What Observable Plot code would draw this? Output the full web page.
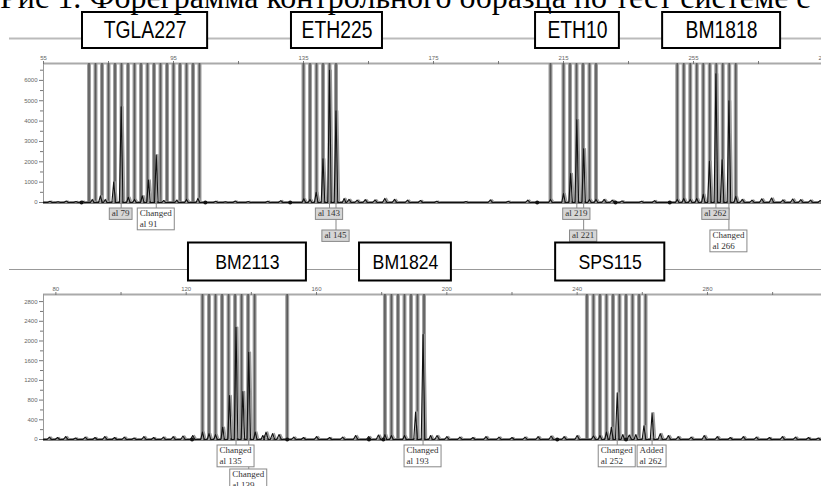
<!DOCTYPE html>
<html><head><meta charset="utf-8">
<script src="https://cdn.jsdelivr.net/npm/d3@7"></script>
<script src="https://cdn.jsdelivr.net/npm/@observablehq/plot@0.6"></script>
<style>
body{margin:0;background:#fff;}
#wrap{position:relative;width:821px;height:486px;overflow:hidden;background:#fff;}
#title{position:absolute;left:0;top:-19px;font-family:"Liberation Serif","Times New Roman",serif;font-size:32px;line-height:32px;white-space:nowrap;color:#000;z-index:3;}
#top{position:absolute;left:0;top:0;}
#bot{position:absolute;left:0;top:236px;}
</style></head><body>
<div id="wrap"><div id="title">Рис 1. Фореграмма контрольного образца по тест системе с</div><div id="top"></div><div id="bot"></div></div>
<script>
const W = 821;

// ---------------- top panel data ----------------
const topXTicks = [55, 95, 135, 175, 215, 255, 295];
const topXMinor = [75, 115, 155, 195, 235, 275];
const topYTicks = [0, 1000, 2000, 3000, 4000, 5000, 6000];
const topYMinor = [500, 1500, 2500, 3500, 4500, 5500, 6500];
const topLoci = ["TGLA227", "ETH225", "ETH10", "BM1818"];
const topLocusFrom = [67.0, 131.3, 206.4, 245.5];
const topLocusTo = [105.5, 159.3, 232.2, 281.8];
const topBins = [69,71,73,75,77,79,81,83,85,87,89,91,93,95,97,99,101,103,
                 135,137,139,141,143,145,
                 211,215,217,219,221,223,225,
                 250,252,254,256,258,260,262,264,266,268];
const topPeakX = [70,72.5,74,76.6,78.9,81.1,83,85.4,87.3,89.7,92,96,99,102.5,
                  135.1,137,138.9,141,143,145,147.5,
                  211,215,217.2,219.1,221.2,223,225,
                  250,252,254,256,258,259.9,261.9,263.8,265.9,268];
const topPeakH = [150,330,150,1000,4700,260,150,330,1100,2340,100,120,150,200,
                  180,150,500,2150,6500,4500,200,
                  150,440,1420,4060,2640,150,150,
                  150,200,150,200,400,2030,6320,2100,5000,300];
const topNoiseX = [57,59.5,62,65,67,108,111,114,118,124,128,149,151.5,154,157,160,163,167,171,176,185,192.5,198,204,227.5,230,233,239,243,270,273,276,279,282.5,285.5,288,291,294];
const topNoiseH = [60,40,70,50,60,60,40,70,50,60,90,150,120,140,130,200,150,120,100,60,50,130,60,120,150,120,80,60,90,150,120,180,220,130,170,140,120,100];
const topDotX = [66.7,104.8,130.9,206.9,231,247.7];
const topAlleleX = [78.9, 89.7, 143, 145, 219.1, 221.2, 261.9, 265.9];
const topAlleleText = ["al 79", "Changed\nal 91", "al 143", "al 145", "al 219", "al 221", "al 262", "Changed\nal 266"];
const topAlleleRow = [1, 1, 1, 2, 1, 2, 1, 2];

// ---------------- bottom panel data ----------------
const botXTicks = [80, 120, 160, 200, 240, 280];
const botXMinor = [100, 140, 180, 220, 260, 300];
const botYTicks = [0, 400, 800, 1200, 1600, 2000, 2400, 2800];
const botYMinor = [200, 600, 1000, 1400, 1800, 2200, 2600];
const botLoci = ["BM2113", "BM1824", "SPS115"];
const botLocusFrom = [120.7, 173.2, 233.4];
const botLocusTo = [156.9, 201.4, 266.9];
const botBins = [125,127,129,131,133,135,137,139,141,151,
                 181,183,185,187,189,191,193,
                 243,245,247,249,251,253,255,257,259,261];
const botPeakX = [125,127,129,131.2,133.3,135.3,137.4,139.2,141.2,143.5,
                  181,183,187,190.4,192.7,195,
                  247,249,250.5,252.3,254,258,260.5,263];
const botPeakH = [150,120,100,250,890,2280,975,1770,150,80,
                  100,80,80,555,2130,80,
                  80,150,250,950,100,100,280,540];
const botNoiseX = [78,80.5,83,86,89,92,95,98,101,104,107,110,113,116,119,122,144.5,146.5,148.5,153,156,160,164,168,172,176,179,197,200,204,208,212,216,220,224,228,232,236,240,245,256,265.5,268,271,275,279,283,287,291,295,299,303,307,311,314];
const botNoiseH = [50,40,60,30,50,40,60,40,50,30,60,40,50,60,70,80,150,120,100,50,40,60,40,50,80,60,90,80,60,50,40,60,50,40,50,60,70,60,80,70,90,120,80,60,50,80,60,40,60,50,40,60,50,40,30];
const botDotX = [121.8,151,176.1,180.5,233.9,255];
const botAlleleX = [135.3, 139.2, 192.7, 252.3, 263];
const botAlleleText = ["Changed\nal 135", "Changed\nal 139", "Changed\nal 193", "Changed\nal 252", "Added\nal 262"];
const botAlleleRow = [1, 2, 1, 1, 1];

// ---------------- helpers ----------------
const ctx = document.createElement("canvas").getContext("2d");
ctx.font = "9px 'Liberation Serif', serif";

function trace(px, ph, nx, nh, xd) {
  const peaks = px.map((x, i) => ({x, h: ph[i], w: 0.55}))
    .concat(nx.map((x, i) => ({x, h: nh[i], w: 0.7})));
  peaks.sort((a, b) => a.x - b.x);
  const pts = [{x: xd[0], y: 0}];
  for (const p of peaks) pts.push({x: p.x - p.w, y: 0}, {x: p.x, y: p.h}, {x: p.x + p.w, y: 0});
  pts.push({x: xd[1], y: 0});
  return pts;
}

function makePanel(cfg) {
  const {H, mt, mb, ml, xDomain, xRange, yMax, xTicks, xMinor, yTicks, yMinor,
         loci, from, to, locusCenterPx, locusHeightPx, locusFont,
         bins, peakX, peakH, noiseX, noiseH, dotX,
         alleleX, alleleText, alleleRow, rowTops, windowLinePx, windowLineStyle} = cfg;
  const uy = yMax / (H - mt - mb);
  const ux = (xDomain[1] - xDomain[0]) / (xRange[1] - xRange[0]);
  const pts = trace(peakX, peakH, noiseX, noiseH, [xDomain[0], Math.min(xDomain[1], 314.5)]);
  const loc = loci.map((name, i) => ({name, x1: from[i], x2: to[i], xm: (from[i] + to[i]) / 2,
    y1: (locusCenterPx - locusHeightPx / 2) * uy, y2: (locusCenterPx + locusHeightPx / 2) * uy, ym: locusCenterPx * uy}));
  const items = alleleX.map((x, i) => {
    const lines = alleleText[i].split("\n");
    const tw = Math.max(...lines.map(l => ctx.measureText(l).width));
    const w = tw + 5;
    const h = lines.length * 10.4 + 1;
    const top = rowTops[alleleRow[i] - 1];
    return {x, x1: x - w / 2 * ux, x2: x + w / 2 * ux, y1: -top * uy, y2: -(top + h) * uy,
      text: alleleText[i], edited: /^(Changed|Added)/.test(alleleText[i]),
      tx: x - w / 2 * ux + 2 * ux, ty: -(top + 0.5) * uy};
  });
  const wl = [{x1: xDomain[0] - (ml - 9) * ux, x2: xDomain[1], y: windowLinePx * uy}];
  return Plot.plot({
    width: W, height: H,
    marginTop: mt, marginBottom: mb, marginLeft: ml, marginRight: 0,
    style: {background: "transparent", fontFamily: "'Liberation Sans', Arial, sans-serif", fontSize: "6px", color: "#666"},
    x: {domain: xDomain, range: xRange},
    y: {domain: [0, yMax], range: [H - mb, mt]},
    marks: [
      Plot.ruleY(wl, {x1: "x1", x2: "x2", y: "y", stroke: windowLineStyle[0], strokeWidth: windowLineStyle[1]}),
      Plot.ruleY([yMax], {stroke: "#aaa", strokeWidth: 2}),
      Plot.ruleX([xDomain[0]], {y1: 0, y2: yMax, stroke: "#999", strokeWidth: 1}),
      Plot.axisX({anchor: "top", ticks: xTicks, tickSize: 3, tickPadding: 1, fontSize: 6, stroke: "#777", fill: "#666", tickFormat: d => String(d)}),
      Plot.axisX({anchor: "top", ticks: xMinor, tickSize: 3, stroke: "#777", tickFormat: () => ""}),
      Plot.axisY({ticks: yTicks, tickSize: 4, tickPadding: 2, fontSize: 6, stroke: "#777", fill: "#666", tickFormat: d => String(d)}),
      Plot.axisY({ticks: yMinor, tickSize: 3, stroke: "#777", tickFormat: () => ""}),
      Plot.ruleX(bins, {y1: 0, y2: yMax, stroke: "#a0a0a0", strokeWidth: 4}),
      Plot.ruleX(bins, {y1: 0, y2: yMax, stroke: "#5c5c5c", strokeWidth: 1.6}),
      Plot.ruleY([0], {stroke: "#555", strokeWidth: 2.5}),
      Plot.line(pts, {x: "x", y: "y", stroke: "#9a9a9a", strokeWidth: 1.6, dx: 1.6}),
      Plot.line(pts, {x: "x", y: "y", stroke: "#111", strokeWidth: 1.1}),
      Plot.dot(dotX, {x: d => d, y: 0, r: 2, fill: "#111", stroke: "none"}),
      Plot.ruleX(items, {x: "x", y1: 0, y2: "y1", stroke: "#888", strokeWidth: 1}),
      Plot.rect(items.filter(d => !d.edited), {x1: "x1", x2: "x2", y1: "y1", y2: "y2", fill: "#d6d6d6", stroke: "#888", strokeWidth: 1}),
      Plot.rect(items.filter(d => d.edited), {x1: "x1", x2: "x2", y1: "y1", y2: "y2", fill: "#fff", stroke: "#888", strokeWidth: 1}),
      Plot.text(items, {x: "tx", y: "ty", text: "text", textAnchor: "start", lineAnchor: "top", fontFamily: "'Liberation Serif', 'Times New Roman', serif", fontSize: 9, lineHeight: 1.15, fill: "#333"}),
      Plot.rect(loc, {x1: "x1", x2: "x2", y1: "y1", y2: "y2", fill: "#fff", stroke: "#000", strokeWidth: 2}),
      Plot.text(loc, {x: "xm", y: "ym", text: "name", fontFamily: "'Liberation Sans', Arial, sans-serif", fontSize: locusFont, fill: "#000"})
    ]
  });
}

// condense the locus names (narrow face is not installed)
function condense(svg, names, factor) {
  d3.select(svg).selectAll("text").filter(function() { return names.includes(this.textContent); })
    .each(function() {
      const len = this.getComputedTextLength();
      this.setAttribute("textLength", (len * factor).toFixed(1));
      this.setAttribute("lengthAdjust", "spacingAndGlyphs");
    });
}

const topSvg = makePanel({
  H: 258, mt: 63, mb: 56, ml: 43, xDomain: [55, 295], xRange: [43, 823], yMax: 6830,
  xTicks: topXTicks, xMinor: topXMinor, yTicks: topYTicks, yMinor: topYMinor,
  loci: topLoci, from: topLocusFrom, to: topLocusTo, locusCenterPx: 172, locusHeightPx: 36, locusFont: 23,
  bins: topBins, peakX: topPeakX, peakH: topPeakH, noiseX: topNoiseX, noiseH: topNoiseH, dotX: topDotX,
  alleleX: topAlleleX, alleleText: topAlleleText, alleleRow: topAlleleRow, rowTops: [6, 28],
  windowLinePx: 164, windowLineStyle: ["#bbb", 2]
});
document.getElementById("top").append(topSvg);
condense(topSvg, topLoci, 0.84);

const botSvg = makePanel({
  H: 250, mt: 58, mb: 47, ml: 43, xDomain: [76.2, 315], xRange: [43, 821], yMax: 2944,
  xTicks: botXTicks, xMinor: botXMinor, yTicks: botYTicks, yMinor: botYMinor,
  loci: botLoci, from: botLocusFrom, to: botLocusTo, locusCenterPx: 177.5, locusHeightPx: 38, locusFont: 21,
  bins: botBins, peakX: botPeakX, peakH: botPeakH, noiseX: botNoiseX, noiseH: botNoiseH, dotX: botDotX,
  alleleX: botAlleleX, alleleText: botAlleleText, alleleRow: botAlleleRow, rowTops: [6, 30],
  windowLinePx: 170, windowLineStyle: ["#999", 1]
});
document.getElementById("bot").append(botSvg);
condense(botSvg, botLoci, 0.84);
</script>
</body></html>
